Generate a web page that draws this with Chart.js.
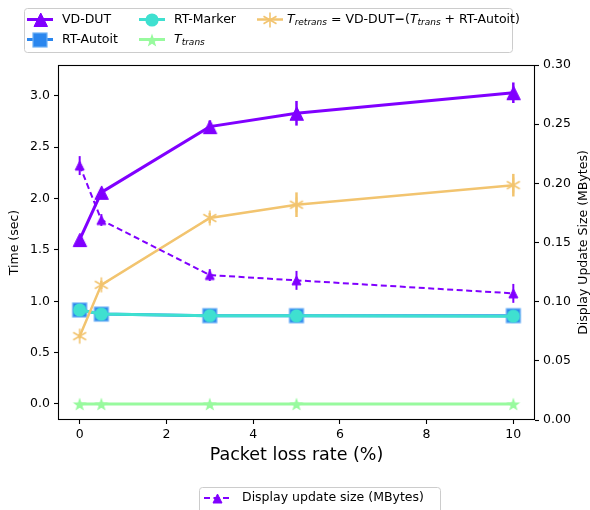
<!DOCTYPE html>
<html>
<head>
<meta charset="utf-8">
<script src="https://cdn.jsdelivr.net/npm/chart.js@4.4.1/dist/chart.umd.min.js"></script>
<style>
  html, body { margin: 0; padding: 0; background: #fff; }
  #wrap { width: 590px; height: 510px; }
</style>
</head>
<body>
<div id="wrap"><canvas id="c" width="590" height="510"></canvas></div>
<script>
// Packet loss rates (%) on the x axis
const lossRates = [0, 0.5, 3, 5, 10];

// Time series (sec), left axis
const vdDut      = [1.60, 2.06, 2.70, 2.83, 3.03];
const vdDutErr   = [0.03, 0.04, 0.06, 0.12, 0.10];
const rtAutoit   = [0.915, 0.875, 0.86, 0.86, 0.86];
const rtMarker   = [0.915, 0.875, 0.86, 0.858, 0.855];
const tTrans     = [0, 0, 0, 0, 0];
const tRetrans   = [0.66, 1.16, 1.81, 1.94, 2.13];
const tRetransErr = [0.02, 0.04, 0.05, 0.12, 0.11];

// Display update size (MBytes), right axis
const updateSize    = [0.215, 0.169, 0.1225, 0.118, 0.107];
const updateSizeErr = [0.008, 0.005, 0.005, 0.008, 0.008];

// Tick values
const xTicks    = [0, 2, 4, 6, 8, 10];
const timeTicks = [0, 0.5, 1.0, 1.5, 2.0, 2.5, 3.0];
const sizeTicks = [0, 0.05, 0.10, 0.15, 0.20, 0.25, 0.30];

const FAM = '"DejaVu Sans", "Liberation Sans", sans-serif';
const purple = '#8000ff', blue = '#2a86ee', blueEdge = '#6fb1f6',
      cyan = '#3fe0d0', green = '#98fa9e', sand = '#f2c46f';

// ---- marker images ----
function markerCanvas(w, h, draw) {
  const c = document.createElement('canvas');
  c.width = w; c.height = h;
  draw(c.getContext('2d'), w / 2, h / 2);
  return c;
}
function triangle(size, color) {
  return markerCanvas(size + 4, size + 4, (g, cx, cy) => {
    const s = size / 2;
    g.beginPath();
    g.moveTo(cx, cy - s); g.lineTo(cx + s, cy + s); g.lineTo(cx - s, cy + s);
    g.closePath();
    g.fillStyle = color; g.fill();
    g.strokeStyle = color; g.lineWidth = 1; g.stroke();
  });
}
const triBig = triangle(13.5, purple);
const triSmall = triangle(9, purple);
const squareMk = markerCanvas(18, 18, (g, cx, cy) => {
  g.fillStyle = blue; g.fillRect(cx - 7, cy - 7, 14, 14);
  g.strokeStyle = blueEdge; g.lineWidth = 1.2; g.strokeRect(cx - 7, cy - 7, 14, 14);
});
const circleMk = markerCanvas(16, 16, (g, cx, cy) => {
  g.beginPath(); g.arc(cx, cy, 6.6, 0, Math.PI * 2);
  g.fillStyle = cyan; g.fill();
});
const starMk = markerCanvas(18, 18, (g, cx, cy) => {
  const R = 7.2, r = R * 0.4;
  g.beginPath();
  for (let k = 0; k < 10; k++) {
    const a = -Math.PI / 2 + k * Math.PI / 5;
    const rr = k % 2 ? r : R;
    const px = cx + rr * Math.cos(a), py = cy + 0.8 + rr * Math.sin(a);
    k ? g.lineTo(px, py) : g.moveTo(px, py);
  }
  g.closePath();
  g.fillStyle = green; g.fill();
});
const asteriskMk = markerCanvas(18, 18, (g, cx, cy) => {
  const R = 7.5;
  g.strokeStyle = sand; g.lineWidth = 1.6;
  for (let k = 0; k < 3; k++) {
    const a = Math.PI / 2 + k * Math.PI / 3;
    g.beginPath();
    g.moveTo(cx - R * Math.cos(a), cy - R * Math.sin(a));
    g.lineTo(cx + R * Math.cos(a), cy + R * Math.sin(a));
    g.stroke();
  }
});

const pts = ys => lossRates.map((x, i) => ({ x, y: ys[i] }));

// ---- vertical error bars ----
const errorBars = {
  id: 'errorBars',
  beforeDatasetsDraw(chart) {
    const ctx = chart.ctx, area = chart.chartArea;
    ctx.save();
    ctx.beginPath(); ctx.rect(area.left, area.top, area.right - area.left, area.bottom - area.top); ctx.clip();
    chart.data.datasets.forEach((ds, i) => {
      if (!ds.errors) return;
      const meta = chart.getDatasetMeta(i);
      const ys = chart.scales[ds.yAxisID];
      ctx.strokeStyle = ds.borderColor;
      ctx.lineWidth = ds.errorWidth;
      ctx.setLineDash([]);
      ds.data.forEach((p, j) => {
        const x = meta.data[j].x;
        const e = ds.errors[j];
        ctx.beginPath();
        ctx.moveTo(x, ys.getPixelForValue(p.y - e));
        ctx.lineTo(x, ys.getPixelForValue(p.y + e));
        ctx.stroke();
      });
    });
    ctx.restore();
  }
};

// ---- frame, axis titles and legends ----
function drawRich(ctx, x, y, parts) {
  for (const p of parts) {
    ctx.font = p.f;
    ctx.fillText(p.t, x, y + (p.dy || 0));
    x += ctx.measureText(p.t).width;
  }
  return x;
}
function legendEntry(ctx, x0, y, color, width, dash, img) {
  ctx.save();
  ctx.strokeStyle = color; ctx.lineWidth = width; ctx.setLineDash(dash);
  ctx.beginPath(); ctx.moveTo(x0, y); ctx.lineTo(x0 + 26, y); ctx.stroke();
  ctx.drawImage(img, Math.round(x0 + 13 - img.width / 2), Math.round(y - img.height / 2));
  ctx.restore();
}
function roundBox(ctx, x, y, w, h, r) {
  ctx.beginPath();
  ctx.moveTo(x + r, y); ctx.lineTo(x + w - r, y); ctx.arcTo(x + w, y, x + w, y + r, r);
  ctx.lineTo(x + w, y + h - r); ctx.arcTo(x + w, y + h, x + w - r, y + h, r);
  ctx.lineTo(x + r, y + h); ctx.arcTo(x, y + h, x, y + h - r, r);
  ctx.lineTo(x, y + r); ctx.arcTo(x, y, x + r, y, r);
  ctx.closePath();
  ctx.fillStyle = 'rgba(255,255,255,0.8)'; ctx.fill();
  ctx.strokeStyle = '#cccccc'; ctx.lineWidth = 1; ctx.stroke();
}
const decorations = {
  id: 'decorations',
  afterDraw(chart) {
    const ctx = chart.ctx, a = chart.chartArea;
    ctx.save();
    // frame
    ctx.strokeStyle = '#000'; ctx.lineWidth = 1.1; ctx.setLineDash([]);
    ctx.strokeRect(a.left + 0.5, a.top + 0.5, a.right - a.left - 1, a.bottom - a.top - 1);

    ctx.fillStyle = '#000';
    ctx.textBaseline = 'middle';
    // x title
    ctx.textAlign = 'center';
    ctx.font = `17.5px ${FAM}`;
    ctx.fillText('Packet loss rate (%)', (a.left + a.right) / 2, 455);
    // left title
    ctx.save();
    ctx.translate(15, (a.top + a.bottom) / 2); ctx.rotate(-Math.PI / 2);
    ctx.font = `12.5px ${FAM}`;
    ctx.fillText('Time (sec)', 0, 0);
    ctx.restore();
    // right title
    ctx.save();
    ctx.translate(584, (a.top + a.bottom) / 2); ctx.rotate(-Math.PI / 2);
    ctx.font = `12.5px ${FAM}`;
    ctx.fillText('Display Update Size (MBytes)', 0, 0);
    ctx.restore();

    // top legend
    ctx.textAlign = 'left';
    roundBox(ctx, 24.5, 8.5, 488, 44, 3);
    const r1 = 19.5, r2 = 39.5;
    legendEntry(ctx, 27, r1, purple, 3, [], triBig);
    legendEntry(ctx, 27, r2, blue, 3, [], squareMk);
    legendEntry(ctx, 139, r1, cyan, 3, [], circleMk);
    legendEntry(ctx, 139, r2, green, 3, [], starMk);
    legendEntry(ctx, 257, r1, sand, 2.5, [], asteriskMk);
    ctx.fillStyle = '#000';
    const N = `12.5px ${FAM}`, I = `italic 12.5px ${FAM}`, S = `italic 9px ${FAM}`;
    drawRich(ctx, 62, r1, [{ t: 'VD-DUT', f: N }]);
    drawRich(ctx, 62, r2, [{ t: 'RT-Autoit', f: N }]);
    drawRich(ctx, 174, r1, [{ t: 'RT-Marker', f: N }]);
    drawRich(ctx, 174, r2, [{ t: 'T', f: I }, { t: 'trans', f: S, dy: 3 }]);
    drawRich(ctx, 287, r1, [
      { t: 'T', f: I }, { t: 'retrans', f: S, dy: 3 },
      { t: ' = VD-DUT', f: N }, { t: '\u2212', f: `bold 12.5px ${FAM}` }, { t: '(', f: N },
      { t: 'T', f: I }, { t: 'trans', f: S, dy: 3 },
      { t: ' + RT-Autoit)', f: N }
    ]);

    // bottom legend
    roundBox(ctx, 199.5, 487.5, 241, 30, 3);
    legendEntry(ctx, 204, 498, purple, 2, [6, 3.5], triSmall);
    ctx.fillStyle = '#000';
    drawRich(ctx, 242, 498, [{ t: 'Display update size (MBytes)', f: N }]);
    ctx.restore();
  }
};

const tickFont = { family: FAM, size: 12.5 };
const gridOpts = { display: true, drawOnChartArea: false, drawTicks: true, tickLength: 4, tickColor: '#000', tickWidth: 1.1 };

new Chart(document.getElementById('c'), {
  type: 'line',
  data: {
    datasets: [
      { label: 'Display update size (MBytes)', data: pts(updateSize), errors: updateSizeErr, errorWidth: 2,
        yAxisID: 'ySize', borderColor: purple, borderWidth: 2, borderDash: [6, 3.5], pointStyle: triSmall, pointRadius: 5, order: 0 },
      { label: 'T_retrans', data: pts(tRetrans), errors: tRetransErr, errorWidth: 2.5,
        yAxisID: 'yTime', borderColor: sand, borderWidth: 2.5, pointStyle: asteriskMk, pointRadius: 7, order: 1 },
      { label: 'T_trans', data: pts(tTrans), yAxisID: 'yTime', borderColor: green, borderWidth: 3,
        pointStyle: starMk, pointRadius: 7, order: 2 },
      { label: 'RT-Marker', data: pts(rtMarker), yAxisID: 'yTime', borderColor: cyan, borderWidth: 3,
        pointStyle: circleMk, pointRadius: 7, order: 3 },
      { label: 'RT-Autoit', data: pts(rtAutoit), yAxisID: 'yTime', borderColor: blue, borderWidth: 3,
        pointStyle: squareMk, pointRadius: 7, order: 4 },
      { label: 'VD-DUT', data: pts(vdDut), errors: vdDutErr, errorWidth: 2.5,
        yAxisID: 'yTime', borderColor: purple, borderWidth: 3, pointStyle: triBig, pointRadius: 7, order: 5 }
    ]
  },
  options: {
    responsive: false,
    devicePixelRatio: 1,
    animation: false,
    layout: { padding: { top: 65, left: 0, right: 0, bottom: 0 } },
    elements: { line: { tension: 0, fill: false } },
    plugins: { legend: { display: false }, tooltip: { enabled: false } },
    scales: {
      x: {
        type: 'linear', position: 'bottom', min: -0.5, max: 10.5,
        afterBuildTicks: s => { s.ticks = xTicks.map(v => ({ value: v })); },
        afterFit: s => { s.height = 90; },
        ticks: { font: tickFont, color: '#000', padding: 3, maxRotation: 0, autoSkip: false, callback: v => String(v) },
        grid: gridOpts, border: { display: false }
      },
      yTime: {
        type: 'linear', position: 'left', min: -0.156, max: 3.30,
        afterBuildTicks: s => { s.ticks = timeTicks.map(v => ({ value: v })); },
        afterFit: s => { s.width = 58; },
        ticks: { font: tickFont, color: '#000', padding: 4, autoSkip: false, callback: v => Number(v).toFixed(1) },
        grid: gridOpts, border: { display: false }
      },
      ySize: {
        type: 'linear', position: 'right', min: 0, max: 0.30,
        afterBuildTicks: s => { s.ticks = sizeTicks.map(v => ({ value: v })); },
        afterFit: s => { s.width = 55; },
        ticks: { font: tickFont, color: '#000', padding: 4, autoSkip: false, callback: v => Number(v).toFixed(2) },
        grid: gridOpts, border: { display: false }
      }
    }
  },
  plugins: [errorBars, decorations]
});
</script>
</body>
</html>
